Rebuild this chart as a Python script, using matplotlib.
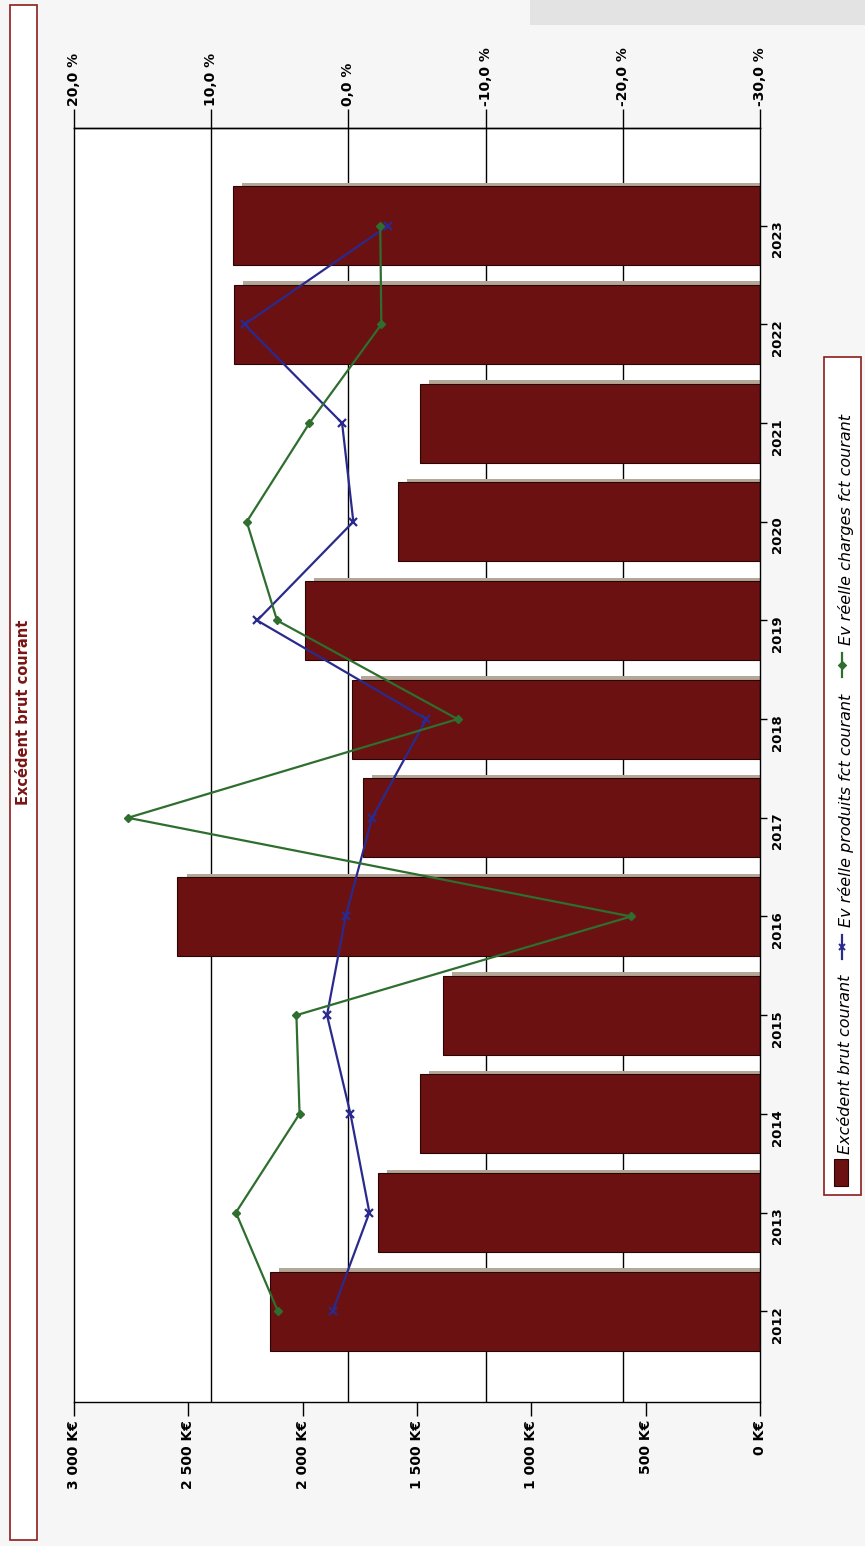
import matplotlib
matplotlib.use("Agg")
import matplotlib.pyplot as plt
import numpy as np
from matplotlib.lines import Line2D
from matplotlib.patches import Rectangle

# Data read from the (rotated) scan
years = ["2012", "2013", "2014", "2015", "2016", "2017",
         "2018", "2019", "2020", "2021", "2022", "2023"]
ebc_keur = [2145, 1671, 1486, 1388, 2548, 1736, 1785, 1990, 1583, 1486, 2302, 2306]
ev_produits = [1.14, -1.53, -0.15, 1.56, 0.2, -1.73, -5.68, 6.65, -0.36, 0.46, 7.57, -2.88]
ev_charges = [5.14, 8.2, 3.56, 3.79, -20.6, 16.07, -7.96, 5.2, 7.41, 2.84, -2.4, -2.32]

keur_ticks = [3000, 2500, 2000, 1500, 1000, 500, 0]
keur_labels = ["3 000 K€", "2 500 K€", "2 000 K€", "1 500 K€", "1 000 K€", "500 K€", "0 K€"]
pct_ticks = [20, 10, 0, -10, -20, -30]
pct_labels = ["20,0 %", "10,0 %", "0,0 %", "-10,0 %", "-20,0 %", "-30,0 %"]

BAR = "#6b1111"
BAR_EDGE = "#2a0505"
FRAME_RED = "#8b1c1c"
BLUE = "#2a2a8e"
GREEN = "#2e6e2e"

W, H = 865, 1546


def pct_to_keur(p):
    return (np.asarray(p, dtype=float) + 30.0) * 60.0


def keur_to_pct(k):
    return np.asarray(k, dtype=float) / 60.0 - 30.0


def fx(px):
    return px / W


def fy(py):
    return 1 - py / H


fig = plt.figure(figsize=(8.65, 15.46), dpi=100, facecolor="#f6f6f6")
ax = fig.add_axes([fx(74), fy(1402), fx(760) - fx(74), fy(128) - fy(1402)])
ax.set_facecolor("white")

y = np.arange(len(years))

# bar shadow, then bars
ax.barh(y + 0.035, np.array(ebc_keur) - 40, height=0.8, color="#b5a797", zorder=1)
ax.barh(y, ebc_keur, height=0.8, color=BAR, edgecolor=BAR_EDGE, linewidth=0.8, zorder=2)

ax.set_xlim(3000, 0)
ax.set_ylim(-0.92, 11.99)

# vertical grid at the percentage ticks
ax.set_xticks(pct_to_keur(pct_ticks), minor=True)
ax.grid(which="minor", axis="x", color="black", linewidth=1)
ax.set_axisbelow(True)
ax.tick_params(axis="x", which="minor", length=0)

ax.plot(pct_to_keur(ev_produits), y, color=BLUE, linewidth=1.6, marker="x",
        markersize=6, markeredgewidth=1.6, zorder=4)
ax.plot(pct_to_keur(ev_charges), y, color=GREEN, linewidth=1.6, marker="D",
        markersize=4, zorder=4)

# K€ axis (bottom)
ax.set_xticks(keur_ticks, labels=keur_labels)
ax.tick_params(axis="x", which="major", length=10, width=1, pad=3,
               labelrotation=90, labelsize=10)
for lbl in ax.get_xticklabels():
    lbl.set_fontweight("bold")

# percentage axis (top)
sec = ax.secondary_xaxis("top", functions=(keur_to_pct, pct_to_keur))
sec.set_xticks(pct_ticks, labels=pct_labels)
sec.tick_params(length=14, width=1, pad=2, labelrotation=90, labelsize=10)
for lbl in sec.get_xticklabels():
    lbl.set_fontweight("bold")
sec.spines["top"].set_linewidth(1)

# years (right)
ax.yaxis.tick_right()
ax.set_yticks(y, labels=years)
ax.tick_params(axis="y", length=5, width=1, pad=3, labelrotation=90, labelsize=9.5)
for lbl in ax.get_yticklabels():
    lbl.set_fontweight("bold")

for sp in ax.spines.values():
    sp.set_linewidth(1)
    sp.set_color("black")

# title box
fig.add_artist(Rectangle((fx(10), fy(1540)), fx(27), fy(5) - fy(1540),
                         transform=fig.transFigure, facecolor="white",
                         edgecolor=FRAME_RED, linewidth=1.2))
fig.text(fx(24), fy(712), "Excédent brut courant", rotation=90, ha="center",
         va="center", color="#7a1515", fontsize=10.5, fontweight="bold")

# scanner shading top right
fig.add_artist(Rectangle((fx(530), fy(25)), fx(335), fy(0) - fy(25),
                         transform=fig.transFigure, facecolor="#e3e3e3",
                         edgecolor="none"))

# legend (rotated, drawn by hand, stacked from the bottom upwards)
fig.add_artist(Rectangle((fx(824), fy(1195)), fx(37), fy(357) - fy(1195),
                         transform=fig.transFigure, facecolor="white",
                         edgecolor=FRAME_RED, linewidth=1.2))
fig.add_artist(Rectangle((fx(834), fy(1186)), fx(14), fy(1159) - fy(1186),
                         transform=fig.transFigure, facecolor=BAR,
                         edgecolor=BAR_EDGE, linewidth=0.8))

renderer = fig.canvas.get_renderer()
legend_size = 11.5
cursor = 1154


def legend_text(label):
    global cursor
    t = fig.text(fx(846), fy(cursor), label, rotation=90, ha="center",
                 va="bottom", fontsize=legend_size, style="italic")
    cursor -= t.get_window_extent(renderer).height + 16


def legend_handle(color, marker, msize):
    global cursor
    fig.add_artist(Line2D([fx(842), fx(842)], [fy(cursor), fy(cursor - 24)],
                          color=color, linewidth=1.6, transform=fig.transFigure))
    fig.add_artist(Line2D([fx(842)], [fy(cursor - 12)], color=color, marker=marker,
                          markersize=msize, markeredgewidth=1.4,
                          transform=fig.transFigure))
    cursor -= 32


legend_text("Excédent brut courant")
legend_handle(BLUE, "x", 5)
legend_text("Ev réelle produits fct courant")
legend_handle(GREEN, "D", 3.5)
legend_text("Ev réelle charges fct courant")

fig.savefig("out.png", dpi=100, facecolor=fig.get_facecolor())
